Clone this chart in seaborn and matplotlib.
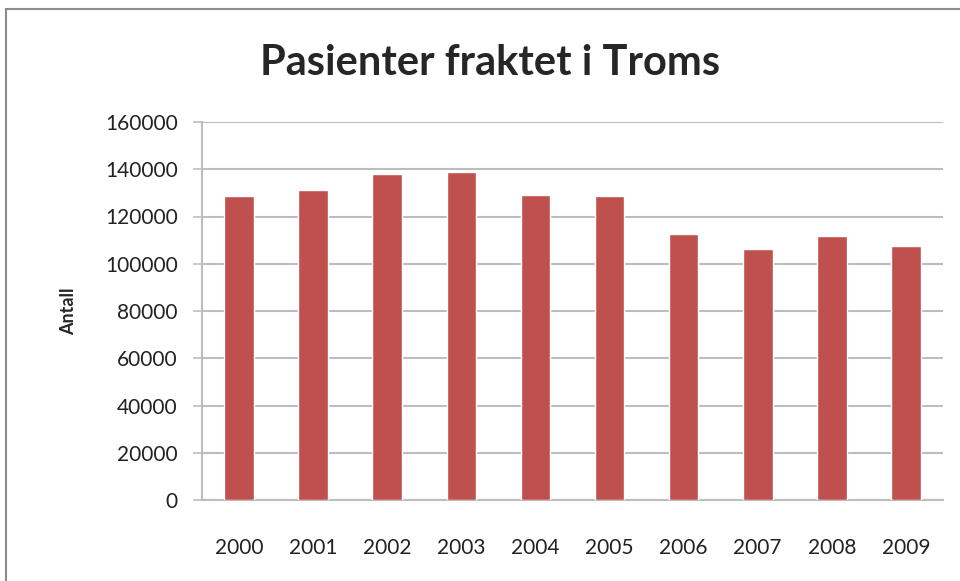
import numpy as np
import pandas as pd
import matplotlib
matplotlib.use("Agg")
import matplotlib.pyplot as plt
import seaborn as sns
from matplotlib.patches import Rectangle

# values
years = ["2000", "2001", "2002", "2003", "2004", "2005", "2006", "2007", "2008", "2009"]
antall = [128700, 131300, 137900, 139000, 129100, 128700, 112500, 106400, 111800, 107400]
yticks = [0, 20000, 40000, 60000, 80000, 100000, 120000, 140000, 160000]

data = pd.DataFrame({"year": years, "antall": antall})

sns.set_style("white")
plt.rcParams["font.family"] = ["Lato", "DejaVu Sans"]

fig = plt.figure(figsize=(9.6, 5.81), dpi=100)
ax = fig.add_axes([202 / 960, 1 - 500 / 581, (943 - 202) / 960, (500 - 122) / 581])

sns.barplot(data=data, x="year", y="antall", color="#C0504D", width=0.4,
            saturation=1, ax=ax, zorder=3)

ax.set_ylim(0, 160000)
ax.set_yticks(yticks)
ax.set_yticklabels([str(t) for t in yticks], fontsize=15, color="#222222")
ax.tick_params(axis="x", labelsize=15, labelcolor="#222222", length=0, pad=27)
ax.tick_params(axis="y", length=6.5, width=1.2, color="#BDBDBD", pad=11, left=True)
ax.grid(axis="y", color="#BDBDBD", linewidth=1.5, zorder=0)
ax.set_xlabel("")
ax.set_ylabel("Antall", fontsize=13, fontweight="bold", labelpad=20)
for side in ["top", "right"]:
    ax.spines[side].set_visible(False)
ax.spines["left"].set_color("#BDBDBD")
ax.spines["left"].set_linewidth(1.5)
ax.spines["bottom"].set_color("#BDBDBD")
ax.spines["bottom"].set_linewidth(1.5)

fig.text(490 / 960, 1 - 63 / 581, "Pasienter fraktet i Troms", ha="center", va="center",
         fontsize=30, fontweight="bold")

# outer chart border
fig.patches.append(Rectangle((6 / 960, -0.1), 1.2, 1 - 9 / 581 + 0.1, transform=fig.transFigure,
                             fill=False, edgecolor="#8C8C8C", linewidth=1.5))

fig.savefig("out.png", dpi=100)
